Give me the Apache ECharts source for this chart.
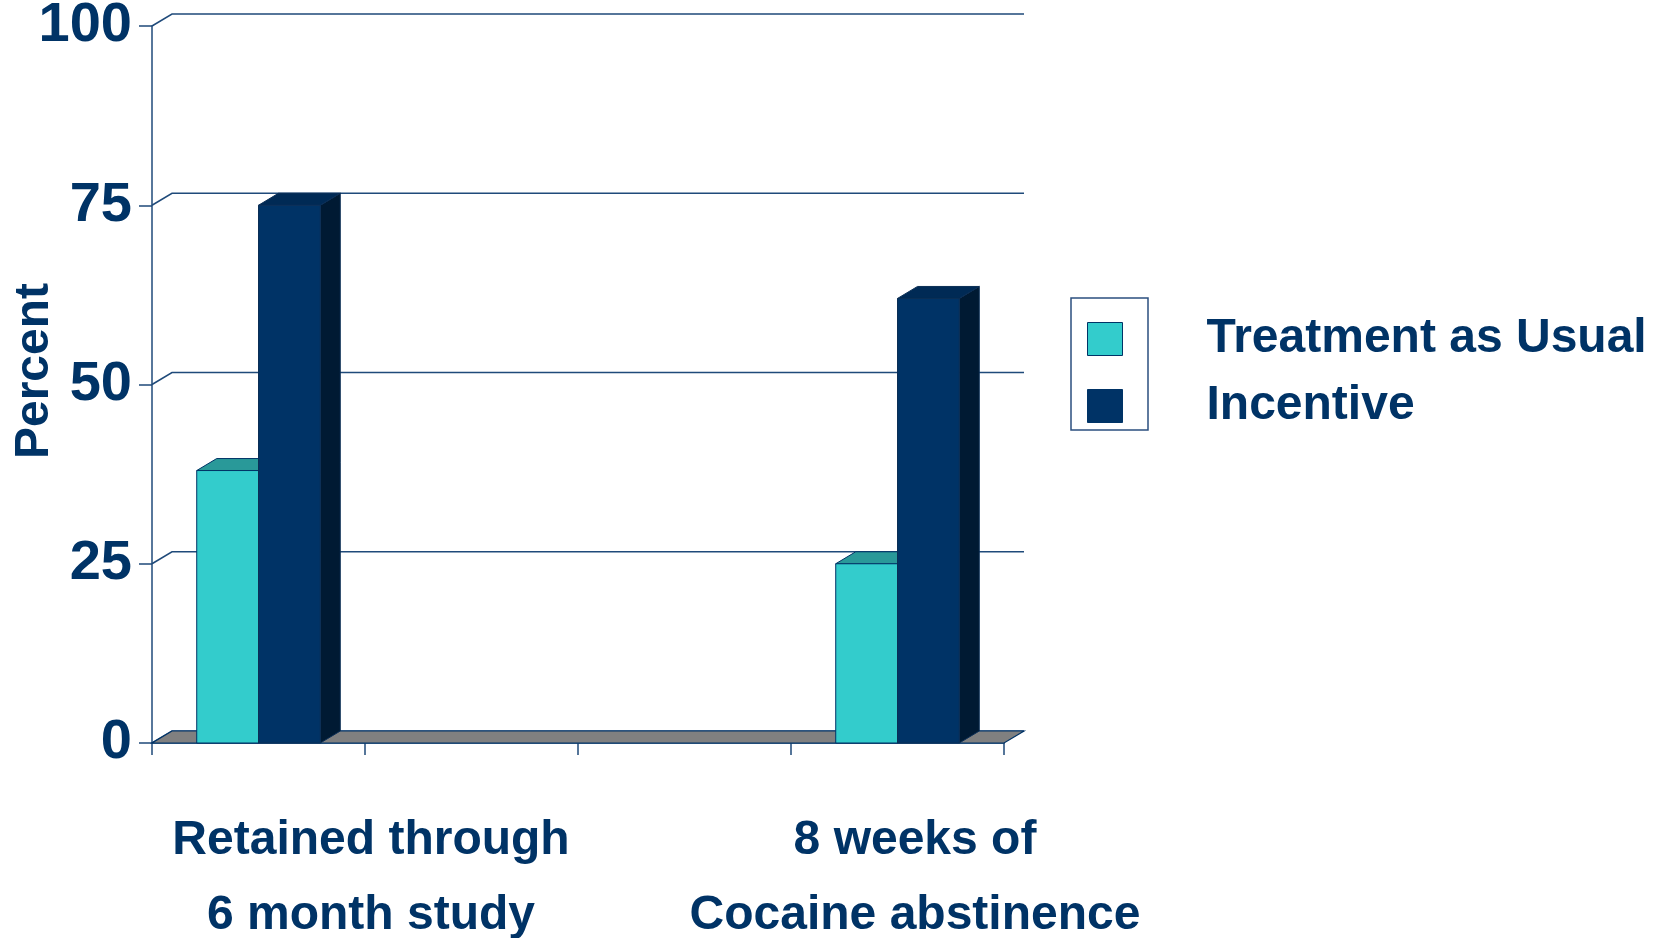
<!DOCTYPE html>
<html>
<head>
<meta charset="utf-8">
<title>Percent retained and abstinent</title>
<script src="https://cdn.jsdelivr.net/npm/echarts@6/dist/echarts.min.js"></script>
<style>
  html, body { margin: 0; padding: 0; background: #ffffff; }
  #chart { width: 1665px; height: 938px; }
</style>
</head>
<body>
<div id="chart"></div>
<script>
// Categories (the two middle slots are empty spacers on the axis)
const categories = ['Retained through\n6 month study', ' ', '  ', '8 weeks of\nCocaine abstinence'];
const seriesNames = ['Treatment as Usual', 'Incentive'];
const treatmentAsUsual = [38, null, null, 25];
const incentive = [75, null, null, 62];
const yTicks = [0, 25, 50, 75, 100];
const yAxisTitle = 'Percent';

const NAVY = '#003366';
const FONT = '"Liberation Sans", Arial, Helvetica, sans-serif';
// depth offset of the pseudo-3D walls and bar sides
const DX = 20, DY = -12;

const faces = [
  { front: '#33CCCC', top: '#299999', side: '#1F7A7A', stroke: NAVY },
  { front: '#003366', top: '#002A55', side: '#001A33', stroke: '#0B2E55' }
];

function toPairs(arr) {
  return arr.map((v, i) => (v == null ? null : [i, v])).filter(Boolean);
}

function barRenderer(seriesIdx) {
  return function (params, api) {
    const cat = api.value(0), v = api.value(1);
    const base = api.coord([cat, 0]);
    const top = api.coord([cat, v]);
    const w = api.size([1, 0])[0] * 0.29;
    const x0 = base[0] + (seriesIdx === 0 ? -w : 0);
    const yT = top[1], yB = base[1];
    const f = faces[seriesIdx];
    return {
      type: 'group',
      children: [
        { type: 'polygon', shape: { points: [[x0 + w, yT], [x0 + w + DX, yT + DY], [x0 + w + DX, yB + DY], [x0 + w, yB]] },
          style: { fill: f.side, stroke: f.stroke, lineWidth: 1 } },
        { type: 'polygon', shape: { points: [[x0, yT], [x0 + w, yT], [x0 + w + DX, yT + DY], [x0 + DX, yT + DY]] },
          style: { fill: f.top, stroke: f.stroke, lineWidth: 1 } },
        { type: 'rect', shape: { x: x0, y: yT, width: w, height: yB - yT },
          style: { fill: f.front, stroke: f.stroke, lineWidth: 1 } }
      ]
    };
  };
}

// Back-wall and side-wall gridlines
function gridRenderer(params, api) {
  const cs = params.coordSys;
  const y = api.coord([0, api.value(1)])[1];
  return {
    type: 'polyline',
    shape: { points: [[cs.x, y], [cs.x + DX, y + DY], [cs.x + cs.width + DX, y + DY]] },
    style: { stroke: '#1F4A7A', lineWidth: 1.5, fill: null }
  };
}

// Grey floor slab at zero
function floorRenderer(params, api) {
  const cs = params.coordSys;
  const y = api.coord([0, 0])[1];
  return {
    type: 'polygon',
    shape: { points: [[cs.x, y], [cs.x + cs.width, y], [cs.x + cs.width + DX, y + DY], [cs.x + DX, y + DY]] },
    style: { fill: '#808080', stroke: NAVY, lineWidth: 1.2 }
  };
}

const chart = echarts.init(document.getElementById('chart'), null, { renderer: 'canvas' });

// category label placement (centre x of each label block, first line centre y, line step)
const labelCenters = [371, null, null, 915];
const labelGraphics = [];
categories.forEach((c, i) => {
  if (labelCenters[i] == null) return;
  c.split('\n').forEach((line, k) => {
    labelGraphics.push({
      type: 'text', x: labelCenters[i], y: 841 + k * 75, z: 10,
      style: { text: line, fill: NAVY, font: 'bold 48px ' + FONT, align: 'center', verticalAlign: 'middle' }
    });
  });
});

chart.setOption({
  animation: false,
  backgroundColor: '#ffffff',
  grid: { left: 152, top: 26, width: 852, height: 717, containLabel: false, outerBoundsMode: 'none' },
  legend: {
    orient: 'vertical',
    left: 1087, top: 315,
    padding: 0,
    itemWidth: 35, itemHeight: 33, itemGap: 19,
    icon: 'rect',
    data: seriesNames,
    selectedMode: false,
    itemStyle: { borderColor: NAVY, borderWidth: 1 },
    textStyle: { fontSize: 48, fontWeight: 'bold', fontFamily: FONT, color: NAVY, lineHeight: 33, padding: [0, 0, 0, 79] }
  },
  xAxis: {
    type: 'category',
    data: categories,
    axisLine: { show: true, lineStyle: { color: NAVY, width: 1.5 } },
    axisTick: { show: true, length: 12, lineStyle: { color: '#1F4A7A', width: 1.5 } },
    axisLabel: { show: false },
    splitLine: { show: false }
  },
  yAxis: {
    type: 'value',
    min: 0, max: 100, interval: 25,
    axisLine: { show: true, lineStyle: { color: '#1F4A7A', width: 1.5 } },
    axisTick: { show: true, length: 13, lineStyle: { color: '#1F4A7A', width: 1.5 } },
    axisLabel: { fontSize: 56, fontWeight: 'bold', fontFamily: FONT, color: NAVY, margin: 20, padding: [12, 0, 0, 0] },
    splitLine: { show: false }
  },
  graphic: [
    { type: 'rect', shape: { x: 1071, y: 298, width: 77, height: 132 },
      style: { fill: null, stroke: '#2B4F7F', lineWidth: 1.5 }, z: 5 },
    { type: 'text', x: 35, y: 371, rotation: Math.PI / 2, z: 10,
      style: { text: yAxisTitle, fill: NAVY, font: 'bold 48px ' + FONT, align: 'center', verticalAlign: 'middle' } }
  ].concat(labelGraphics),
  series: [
    { type: 'custom', name: 'grid', z: 1, silent: true, renderItem: gridRenderer,
      data: yTicks.map(v => [0, v]), encode: { x: 0, y: 1 } },
    { type: 'custom', name: 'floor', z: 2, silent: true, renderItem: floorRenderer,
      data: [[0, 0]], encode: { x: 0, y: 1 } },
    { type: 'custom', name: seriesNames[0], z: 3, renderItem: barRenderer(0),
      itemStyle: { color: faces[0].front },
      data: toPairs(treatmentAsUsual), encode: { x: 0, y: 1 } },
    { type: 'custom', name: seriesNames[1], z: 3, renderItem: barRenderer(1),
      itemStyle: { color: faces[1].front },
      data: toPairs(incentive), encode: { x: 0, y: 1 } }
  ]
});
</script>
</body>
</html>
